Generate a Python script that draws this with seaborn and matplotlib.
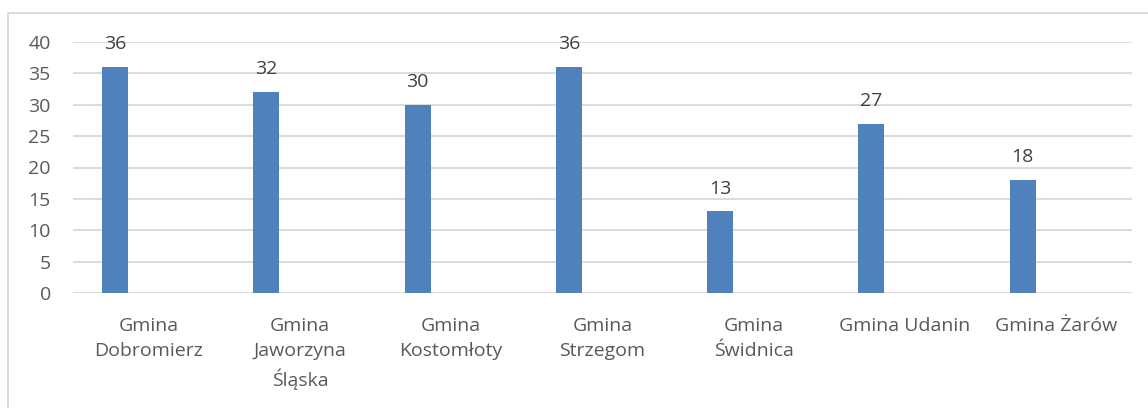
import matplotlib
matplotlib.use("Agg")
import matplotlib.pyplot as plt
import seaborn as sns
from matplotlib.patches import Rectangle

categories = ["Gmina\nDobromierz", "Gmina\nJaworzyna\nŚląska", "Gmina\nKostomłoty",
              "Gmina\nStrzegom", "Gmina\nŚwidnica", "Gmina Udanin", "Gmina Żarów"]
values = [36, 32, 30, 36, 13, 27, 18]

sns.set_style("white")
plt.rcParams['font.family'] = ['Open Sans', 'DejaVu Sans']

fig = plt.figure(figsize=(11.48, 4.08), dpi=100)
ax = fig.add_axes([73 / 1148, 1 - 293 / 408, (1132 - 73) / 1148, (293 - 42) / 408])

sns.barplot(x=categories, y=values, color="#4f81bd", width=0.172, saturation=1, ax=ax)

# bars sit left of the category centre, like in the original
shift = -0.222
for p in ax.patches:
    p.set_x(p.get_x() + shift)
    p.set_edgecolor("none")

ax.bar_label(ax.containers[0], padding=10, fontsize=14, color="#404040")

ax.set_ylim(0, 40)
ax.set_xlim(-0.5, len(categories) - 0.5)
ax.set_yticks(range(0, 41, 5))
ax.yaxis.grid(True, color="#d9d9d9", linewidth=1.3)
ax.set_axisbelow(True)
for s in ax.spines.values():
    s.set_visible(False)
ax.tick_params(axis="y", length=0, pad=16, labelsize=14, labelcolor="#595959")
ax.tick_params(axis="x", length=0, pad=17, labelsize=14, labelcolor="#595959")
for t in ax.get_xticklabels():
    t.set_linespacing(1.5)
    t.set_verticalalignment("top")
ax.set_xlabel("")
ax.set_ylabel("")

# outer chart border
fig.patches.append(Rectangle((8 / 1148, -0.01), 1.0, 1 - 13 / 408 + 0.01,
                             transform=fig.transFigure, fill=False,
                             edgecolor="#d9d9d9", linewidth=1.3))

fig.savefig("out.png", dpi=100)
